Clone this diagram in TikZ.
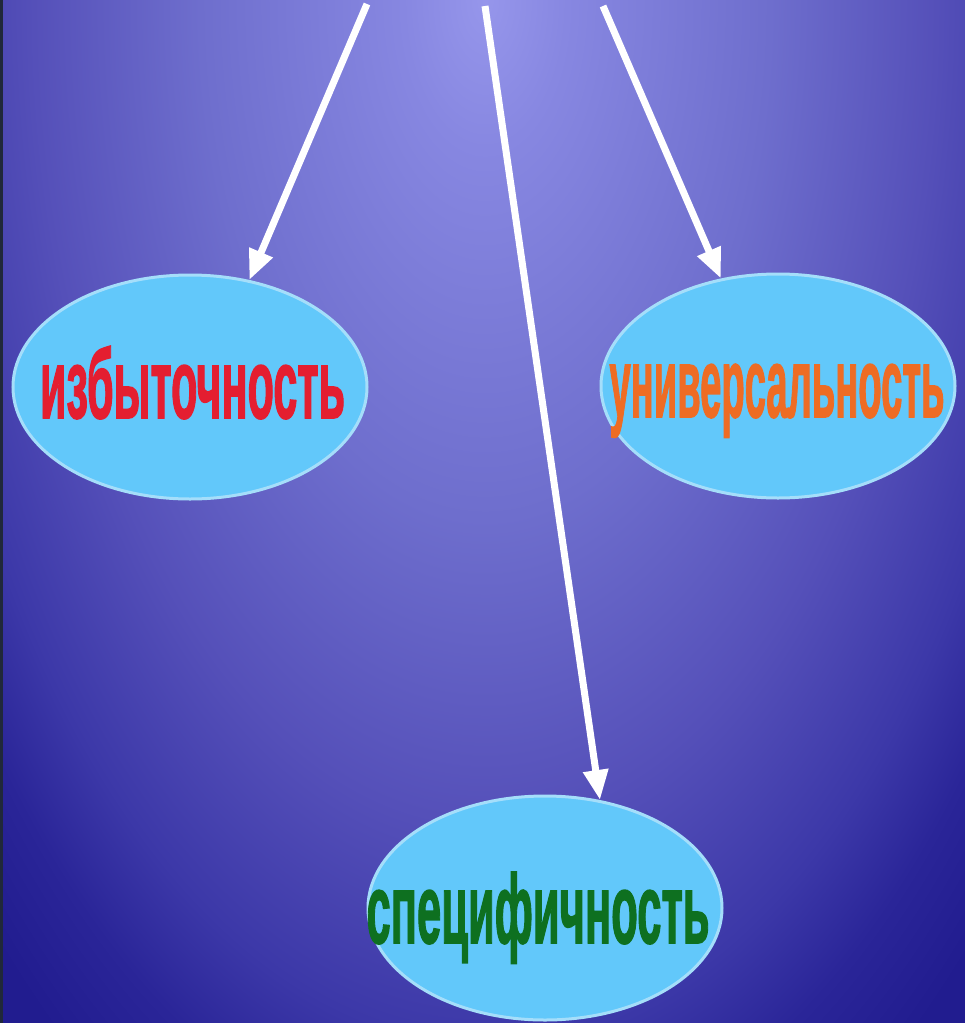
\documentclass[tikz,border=0pt]{standalone}
\usepackage{fontspec}
\setmainfont{Liberation Sans}
\newfontfamily\heavyfont[UprightFont={* Bold},FakeBold=2]{Liberation Sans}
\usetikzlibrary{shapes.geometric,arrows.meta}

% background colours, from the bright top centre outwards
\definecolor{bgA}{RGB}{150,150,235}
\definecolor{bgB}{RGB}{135,135,225}
\definecolor{bgC}{RGB}{110,110,205}
\definecolor{bgD}{RGB}{85,80,185}
\definecolor{bgE}{RGB}{60,56,168}
\definecolor{bgF}{RGB}{42,37,152}
\definecolor{bgG}{RGB}{33,28,143}
\definecolor{edgestrip}{RGB}{32,40,58}
\definecolor{bubblefill}{RGB}{98,200,250}
\definecolor{bubbleedge}{RGB}{165,222,250}
\definecolor{txtred}{RGB}{228,30,48}
\definecolor{txtorange}{RGB}{238,108,36}
\definecolor{txtgreen}{RGB}{14,112,32}

% radial backdrop; the half size of the shaded box maps to 25bp
\pgfdeclareradialshading{backdrop}{\pgfpoint{0bp}{0bp}}{%
  color(0bp)=(bgA); color(3.1bp)=(bgB); color(10.8bp)=(bgC);
  color(17.1bp)=(bgD); color(21.7bp)=(bgE); color(24.3bp)=(bgF);
  color(27bp)=(bgG); color(50bp)=(bgG)}

% condensed label: width, lowering of the baseline, horizontal shift, text
\newcommand\bubbletext[4]{%
  \makebox[0pt]{\raisebox{-#2}[0pt][0pt]{\kern#3\resizebox{#1}{\height}{#4}}}}

\tikzset{
  bubble/.style={ellipse, fill=bubblefill, draw=bubbleedge, line width=3pt,
    minimum width=354pt, minimum height=224pt, inner sep=0pt,
    font=\fontsize{98}{98}\heavyfont},
  pointer/.style={draw=white, line width=7pt,
    -{Triangle[length=30pt,width=24pt]}}
}

\begin{document}
\begin{tikzpicture}[x=1pt,y=-1pt]
  \useasboundingbox (0,0) rectangle (965,1023);

  % shaded backdrop
  \begin{scope}
    \clip (0,0) rectangle (965,1023);
    \path[shading=backdrop] (-175,-1200) rectangle (1145,1200);
  \end{scope}
  \fill[edgestrip] (0,0) rectangle (3,1023);

  % the three properties
  \node[bubble, text=txtred]    (izb)  at (190,387)
    {\bubbletext{305pt}{31pt}{5pt}{избыточность}};
  \node[bubble, text=txtorange] (univ) at (778,386)
    {\bubbletext{335pt}{31pt}{-2pt}{универсальность}};
  \node[bubble, text=txtgreen]  (spec) at (545,908)
    {\bubbletext{343pt}{35pt}{-14pt}{специфичность}};

  % arrows coming in from the top edge
  \coordinate (srcL) at (367,4);
  \coordinate (srcM) at (485,6);
  \coordinate (srcR) at (603,6);
  \draw[pointer] (srcL) -- (izb.61);
  \draw[pointer] (srcM) -- (spec.63);
  \draw[pointer] (srcR) -- (univ.118);
\end{tikzpicture}
\end{document}
